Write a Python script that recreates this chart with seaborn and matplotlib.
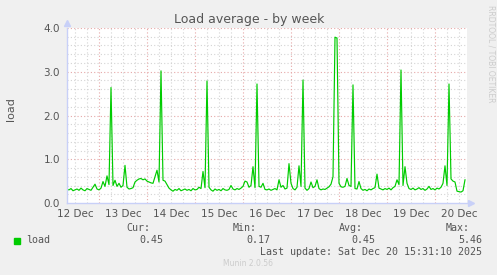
import numpy as np
import pandas as pd
import matplotlib
matplotlib.use("Agg")
import matplotlib.pyplot as plt
from matplotlib.ticker import MultipleLocator, FixedLocator
import seaborn as sns

# hours since 12 Dec 00:00, one sample per hour from 12 Dec 08:00
start_hour = 8
load = [
    0.31, 0.30, 0.33, 0.28, 0.30, 0.32, 0.29, 0.34, 0.30, 0.28,
    0.33, 0.31, 0.29, 0.36, 0.43, 0.32, 0.30, 0.34, 0.49, 0.38,
    0.62, 0.42, 2.64, 0.40, 0.52, 0.38, 0.45, 0.36, 0.40, 0.86,
    0.36, 0.32, 0.33, 0.35, 0.48, 0.52, 0.55, 0.56, 0.53, 0.55,
    0.50, 0.48, 0.46, 0.45, 0.60, 0.75, 0.48, 3.02, 0.52, 0.50,
    0.42, 0.34, 0.30, 0.27, 0.31, 0.29, 0.33, 0.28, 0.30, 0.32,
    0.29, 0.31, 0.28, 0.33, 0.30, 0.31, 0.36, 0.33, 0.72, 0.35,
    2.79, 0.36, 0.30, 0.27, 0.32, 0.29, 0.31, 0.28, 0.33, 0.30,
    0.29, 0.31, 0.40, 0.32, 0.30, 0.33, 0.31, 0.34, 0.38, 0.50,
    0.48, 0.36, 0.40, 0.83, 0.35, 2.72, 0.38, 0.36, 0.45, 0.31,
    0.30, 0.32, 0.29, 0.31, 0.33, 0.30, 0.53, 0.36, 0.40, 0.32,
    0.34, 0.90, 0.45, 0.33, 0.30, 0.36, 0.85, 0.38, 2.81, 0.34,
    0.29, 0.33, 0.48, 0.35, 0.38, 0.53, 0.33, 0.30, 0.32, 0.31,
    0.34, 0.37, 0.43, 0.60, 3.79, 3.77, 0.45, 0.37, 0.36, 0.38,
    0.56, 0.40, 0.38, 2.70, 0.33, 0.32, 0.49, 0.33, 0.29, 0.31,
    0.28, 0.32, 0.30, 0.33, 0.35, 0.66, 0.34, 0.32, 0.30, 0.33,
    0.31, 0.34, 0.30, 0.35, 0.38, 0.53, 0.42, 3.04, 0.40, 0.83,
    0.45, 0.33, 0.31, 0.34, 0.30, 0.32, 0.35, 0.31, 0.33, 0.29,
    0.32, 0.38, 0.31, 0.33, 0.30, 0.34, 0.32, 0.36, 0.45, 0.85,
    0.40, 2.72, 0.55, 0.50, 0.48, 0.27, 0.26, 0.25, 0.28, 0.53,
]
day_labels = ["12 Dec", "13 Dec", "14 Dec", "15 Dec", "16 Dec",
              "17 Dec", "18 Dec", "19 Dec", "20 Dec"]
y_ticks = [0.0, 1.0, 2.0, 3.0, 4.0]
legend_name = "load"
stat_names = ["Cur:", "Min:", "Avg:", "Max:"]
stat_values = ["0.45", "0.17", "0.45", "5.46"]

hours = np.arange(len(load)) + start_hour
df = pd.DataFrame({"hour": hours, "load": load})

W, H = 497, 275
fig = plt.figure(figsize=(W / 100, H / 100), dpi=100, facecolor="#f0f0f0")
ax = fig.add_axes([67 / W, 1 - 203 / H, 400 / W, 175 / H])
ax.set_facecolor("white")

sns.lineplot(data=df, x="hour", y="load", ax=ax, color="#00cc00", linewidth=0.85)

ax.set_xlim(start_hour, start_hour + 200)
ax.set_ylim(0, 4)

# grid
ax.xaxis.set_major_locator(FixedLocator([12 + 24 * k for k in range(len(day_labels))]))
ax.set_xticklabels(day_labels)
ax.xaxis.set_minor_locator(MultipleLocator(6))
ax.yaxis.set_major_locator(FixedLocator(y_ticks))
ax.set_yticklabels([f"{v:.1f}" for v in y_ticks])
ax.yaxis.set_minor_locator(MultipleLocator(0.2))
ax.tick_params(which="both", length=0)
ax.tick_params(axis="x", labelsize=7.5, colors="#555555", pad=4)
ax.tick_params(axis="y", labelsize=7.5, colors="#555555", pad=5)

grid_minor = dict(color="#d4d4d4", linestyle=(0, (1, 2)), linewidth=0.8)
grid_major = dict(color="#e6a8a8", linestyle=(0, (1, 2)), linewidth=0.8)
ax.grid(False)
for v in np.arange(0.2, 4.01, 0.2):
    is_major = abs(v - round(v)) < 1e-6
    ax.axhline(v, zorder=0, **(grid_major if is_major else grid_minor))
for h in range(12, start_hour + 201, 6):
    ax.axvline(h, zorder=0, **(grid_major if h % 24 == 0 else grid_minor))

for s in ["top", "right"]:
    ax.spines[s].set_visible(False)
for s in ["left", "bottom"]:
    ax.spines[s].set_color("#c8d0f8")
    ax.spines[s].set_linewidth(1.0)
ax.plot([0], [1.03], marker="^", color="#c8d0f8", markersize=5,
        transform=ax.transAxes, clip_on=False)
ax.plot([1.01], [0], marker=">", color="#c8d0f8", markersize=5,
        transform=ax.transAxes, clip_on=False)

ax.set_xlabel("")
ax.set_ylabel("")

txt = "#555555"
fig.text(249 / W, 1 - 20 / H, "Load average - by week", ha="center", va="center",
         fontsize=9, color=txt)
fig.text(11 / W, 1 - 109 / H, "load", rotation=90, ha="center", va="center",
         fontsize=8, color=txt)
fig.text(491 / W, 1 - 5 / H, "RRDTOOL / TOBI OETIKER", rotation=270, ha="center",
         va="top", fontsize=5.5, color="#cccccc")

mono = dict(family="DejaVu Sans Mono", fontsize=7.2, color=txt)
stat_right = [150, 257, 363, 470]
val_right = [163, 270, 375, 482]
for name, xr in zip(stat_names, stat_right):
    fig.text(xr / W, 1 - 228 / H, name, ha="right", va="center", **mono)
for val, xr in zip(stat_values, val_right):
    fig.text(xr / W, 1 - 240 / H, val, ha="right", va="center", **mono)
fig.text(26 / W, 1 - 240 / H, legend_name, ha="left", va="center", **mono)
fig.patches.append(plt.Rectangle((14 / W, 1 - 243.5 / H), 6 / W, 6 / H,
                                 transform=fig.transFigure, color="#00cc00"))
fig.text(482 / W, 1 - 252 / H, "Last update: Sat Dec 20 15:31:10 2025",
         ha="right", va="center", **mono)
fig.text(248 / W, 1 - 264 / H, "Munin 2.0.56", ha="center", va="center",
         fontsize=5.5, color="#cccccc")

fig.savefig("out.png", dpi=100, facecolor=fig.get_facecolor())
